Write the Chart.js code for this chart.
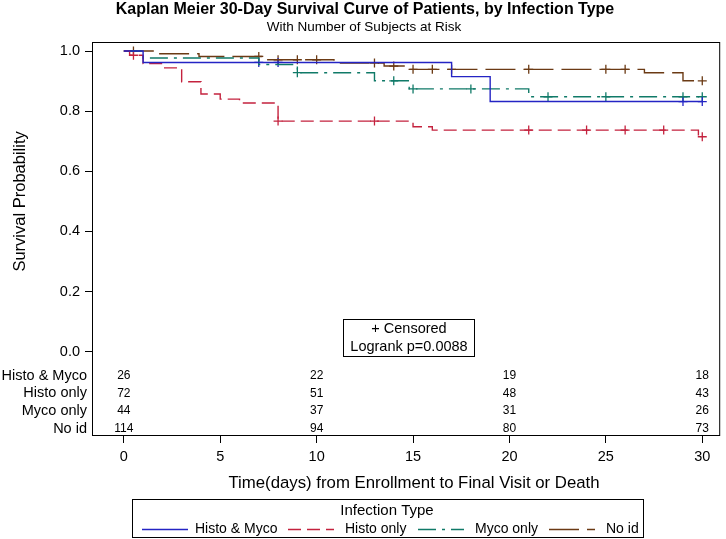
<!DOCTYPE html>
<html>
<head>
<meta charset="utf-8">
<script src="https://cdn.jsdelivr.net/npm/chart.js@4.4.1/dist/chart.umd.min.js"></script>
<style>
  html, body { margin: 0; padding: 0; background: #fff; }
  #wrap { width: 726px; height: 539px; position: relative; }
</style>
</head>
<body>
<div id="wrap"><canvas id="km"></canvas></div>
<script>
// Kaplan Meier step data (time in days, survival probability)
const groups = ['Histo & Myco', 'Histo only', 'Myco only', 'No id'];

const hmTimes = [0, 1, 17, 19, 30];
const hmSurv = [1.0, 0.962, 0.915, 0.832, 0.832];
const hmCensor = [7, 8, 29, 30];

const hoTimes = [0, 0.3, 1, 2, 3, 4, 5, 6, 8, 15, 16, 29.8, 30];
const hoSurv = [1.0, 0.986, 0.958, 0.944, 0.898, 0.857, 0.840, 0.827, 0.767, 0.748, 0.737, 0.715, 0.715];
const hoCensor = [0.5, 8, 13, 21, 24, 26, 28, 30];

const moTimes = [0, 1, 7, 9, 13, 14.8, 21, 30];
const moSurv = [1.0, 0.977, 0.955, 0.928, 0.901, 0.874, 0.848, 0.848];
const moCensor = [9, 14, 15, 18, 22, 25, 29, 30];

const niTimes = [0, 1.8, 3.9, 7.4, 10.9, 13.5, 14.6, 27, 29, 30];
const niSurv = [1.0, 0.991, 0.982, 0.971, 0.960, 0.950, 0.939, 0.928, 0.901, 0.901];
const niCensor = [0.5, 7, 8, 9, 10, 13, 14, 15, 16, 17, 21, 25, 26, 30];

// number at risk table
const riskTimes = [0, 10, 20, 30];
const riskHM = [26, 22, 19, 18];
const riskHO = [72, 51, 48, 43];
const riskMO = [44, 37, 31, 26];
const riskNI = [114, 94, 80, 73];

const xTickValues = [0, 5, 10, 15, 20, 25, 30];
const yTickValues = [0, 0.2, 0.4, 0.6, 0.8, 1.0];

// styles
const colors = ['#2424c4', '#c4223e', '#107a68', '#6b3a14'];
const dashes = [[], [13, 6], [18, 6, 3, 6], [30, 8]];
const FONT = '"Liberation Sans", Arial, sans-serif';

const curves = [
    [hmTimes, hmSurv, hmCensor],
    [hoTimes, hoSurv, hoCensor],
    [moTimes, moSurv, moCensor],
    [niTimes, niSurv, niCensor]
];
const riskRows = [riskHM, riskHO, riskMO, riskNI];

// survival value of a step curve at time t
const survAt = (times, surv, t) => {
    let s = surv[0];
    times.forEach((tt, i) => { if (tt <= t) s = surv[i]; });
    return s;
};

const datasets = [];
curves.forEach(([times, surv], i) => {
    datasets.push({
        label: groups[i],
        data: times.map((t, j) => ({ x: t, y: surv[j] })),
        stepped: true,
        borderColor: colors[i],
        borderWidth: 1.4,
        borderDash: dashes[i],
        pointRadius: 0,
        fill: false
    });
});
curves.forEach(([times, surv, cens], i) => {
    datasets.push({
        label: groups[i] + ' censored',
        data: cens.map(t => ({ x: t, y: survAt(times, surv, t) })),
        showLine: false,
        pointStyle: 'cross',
        pointRadius: 4.5,
        pointBorderWidth: 1.3,
        borderColor: colors[i],
        backgroundColor: colors[i]
    });
});

// titles, frame, at-risk table, inset and legend
const kmDecor = {
    id: 'kmDecor',
    afterDraw(chart) {
        const { ctx, chartArea: a, scales: { x, y } } = chart;
        ctx.save();
        ctx.fillStyle = '#000';
        ctx.strokeStyle = '#000';
        ctx.lineWidth = 1;
        ctx.setLineDash([]);

        // plot frame
        ctx.strokeRect(a.left + 0.5, a.top + 0.5, a.right - a.left - 1, a.bottom - a.top - 1);

        // title + subtitle
        ctx.textAlign = 'center';
        ctx.textBaseline = 'middle';
        ctx.font = 'bold 16px ' + FONT;
        ctx.fillText('Kaplan Meier 30-Day Survival Curve of Patients, by Infection Type', 365, 10);
        ctx.font = '13.5px ' + FONT;
        ctx.fillText('With Number of Subjects at Risk', 364, 27);

        // y title, centred on the 0..1 range
        ctx.save();
        ctx.translate(20, (y.getPixelForValue(0) + y.getPixelForValue(1)) / 2);
        ctx.rotate(-Math.PI / 2);
        ctx.font = '16.5px ' + FONT;
        ctx.fillText('Survival Probability', 0, 0);
        ctx.restore();

        // x title
        ctx.font = '16.8px ' + FONT;
        ctx.fillText('Time(days) from Enrollment to Final Visit or Death', 414, 483);

        // at-risk table
        const y0 = y.getPixelForValue(0);
        riskRows.forEach((row, i) => {
            const py = y0 + 24 + i * 17.6;
            ctx.textAlign = 'right';
            ctx.font = '14.5px ' + FONT;
            ctx.fillText(groups[i], a.left - 5, py);
            ctx.textAlign = 'center';
            ctx.font = '12px ' + FONT;
            riskTimes.forEach((t, j) => ctx.fillText(String(row[j]), x.getPixelForValue(t), py));
        });

        // censored / logrank inset
        ctx.strokeRect(343.5, 319.5, 131, 37);
        ctx.font = '14.5px ' + FONT;
        ctx.textAlign = 'center';
        ctx.fillText('+ Censored', 409, 329);
        ctx.fillText('Logrank p=0.0088', 409, 347);

        // legend
        ctx.strokeRect(132.5, 499.5, 511, 38);
        ctx.font = '15px ' + FONT;
        ctx.fillText('Infection Type', 387, 511);
        const lineX = [142, 288, 418, 549];
        const textX = [195, 345, 475, 606];
        const ly = 529;
        ctx.font = '14px ' + FONT;
        ctx.textAlign = 'left';
        groups.forEach((g, i) => {
            ctx.strokeStyle = colors[i];
            ctx.lineWidth = 1.4;
            ctx.setLineDash(dashes[i]);
            ctx.beginPath();
            ctx.moveTo(lineX[i], ly + 0.5);
            ctx.lineTo(lineX[i] + 46, ly + 0.5);
            ctx.stroke();
            ctx.setLineDash([]);
            ctx.fillText(g, textX[i], ly);
        });
        ctx.restore();
    }
};

new Chart(document.getElementById('km'), {
    type: 'line',
    data: { datasets },
    plugins: [kmDecor],
    options: {
        responsive: true,
        maintainAspectRatio: false,
        animation: false,
        layout: { padding: { top: 42, right: 2, left: 0, bottom: 0 } },
        plugins: {
            legend: { display: false },
            title: { display: false },
            tooltip: { enabled: false }
        },
        scales: {
            x: {
                type: 'linear',
                min: -1.65,
                max: 30.93,
                afterBuildTicks: s => { s.ticks = xTickValues.map(v => ({ value: v })); },
                afterFit: s => { s.height = 103; },
                border: { display: false },
                grid: { drawOnChartArea: false, drawTicks: true, tickLength: 7, color: '#000' },
                ticks: { color: '#000', font: { family: FONT, size: 14.5 }, padding: 5, maxRotation: 0 }
            },
            y: {
                min: -0.28,
                max: 1.03,
                afterBuildTicks: s => { s.ticks = yTickValues.map(v => ({ value: v })); },
                afterFit: s => { s.width = 92; },
                border: { display: false },
                grid: { drawOnChartArea: false, drawTicks: true, tickLength: 7, color: '#000' },
                ticks: { color: '#000', font: { family: FONT, size: 14.5 }, padding: 5, callback: v => v.toFixed(1) }
            }
        }
    }
});
</script>
</body>
</html>
